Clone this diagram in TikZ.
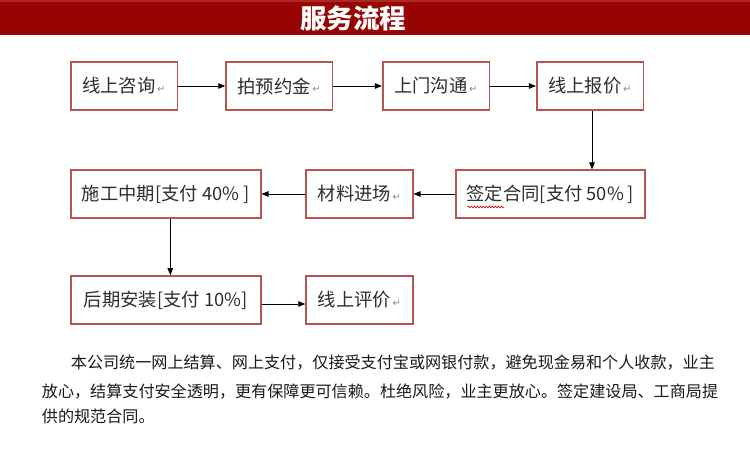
\documentclass[tikz,border=0pt]{standalone}
\usepackage{fontspec}
\usetikzlibrary{arrows.meta,decorations.pathmorphing}
\newfontfamily\cjk{Noto Sans CJK SC}
\newfontfamily\symfont{DejaVu Sans}
\definecolor{barred}{RGB}{150,4,4}
\definecolor{bartop}{RGB}{175,40,40}
\definecolor{boxred}{RGB}{184,84,82}
\definecolor{boxtext}{RGB}{45,45,45}
\definecolor{paratext}{RGB}{25,25,25}
\newcommand\retmark{{\symfont\fontsize{10}{10}\selectfont\color{gray!90}\,\raisebox{0.3pt}{↵}}}
\tikzset{
  flowbox/.style={draw=boxred, line width=1.6pt, inner sep=0pt, minimum height=48pt,
    font=\cjk\fontsize{18.3}{18.3}\selectfont, text=boxtext},
  flowarrow/.style={draw=black, line width=0.9pt, -{Triangle[length=7pt,width=5.5pt]}},
  paraline/.style={anchor=west, inner sep=0pt, font=\cjk\fontsize{16.1}{16.1}\selectfont, text=paratext},
}
\begin{document}
\begin{tikzpicture}[x=1pt,y=-1pt]
\useasboundingbox (0,0) rectangle (750,453);
\fill[white] (0,0) rectangle (750,453);
% header bar
\fill[barred] (0,0) rectangle (750,35);
\fill[bartop] (0,0) rectangle (750,1.5);
\node[text=white, font=\cjk\bfseries\fontsize{26.5}{26.5}\selectfont, inner sep=0pt] (title) at (353,18) {服务流程};
% row 1
\node[flowbox, minimum width=106.6pt] (b1) at (124,86) {线上咨询\retmark};
\node[flowbox, minimum width=106.3pt] (b2) at (279.2,86) {拍预约金\retmark};
\node[flowbox, minimum width=106.6pt] (b3) at (436,86) {上门沟通\retmark};
\node[flowbox, minimum width=106.6pt] (b4) at (590,86) {线上报价\retmark};
% row 2
\node[flowbox, minimum width=190pt, minimum height=47.7pt] (c1) at (165.7,194) {施工中期[支付 40\% ]};
\node[flowbox, minimum width=106.7pt, minimum height=47.7pt] (c2) at (359.4,194) {材料进场\retmark};
\node[flowbox, minimum width=189.3pt, minimum height=47.7pt] (c3) at (550.4,194) {签定合同[支付 50\% ]};
% row 3
\node[flowbox, minimum width=190pt] (d1) at (165.7,300) {后期安装[支付 10\%]};
\node[flowbox, minimum width=106.7pt] (d2) at (359.4,300) {线上评价\retmark};
% spell-check wave under 签定
\draw[red!85!black, line width=0.6pt, decorate, decoration={snake, amplitude=0.9pt, segment length=3pt}]
  ([xshift=-83pt,yshift=-13pt]c3.center) -- ([xshift=-46pt,yshift=-13pt]c3.center);
% connectors
\draw[flowarrow] (b1.east) -- (b2.west);
\draw[flowarrow] (b2.east) -- (b3.west);
\draw[flowarrow] (b3.east) -- (b4.west);
\draw[flowarrow] ([xshift=2pt]b4.south) -- ([xshift=2pt]b4.south |- c3.north);
\draw[flowarrow] (c3.west) -- (c2.east);
\draw[flowarrow] (c2.west) -- (c1.east);
\draw[flowarrow] ([xshift=4.6pt]c1.south) -- ([xshift=4.6pt]c1.south |- d1.north);
\draw[flowarrow] ([yshift=-4pt]d1.east) -- ([yshift=-4pt]d2.west);
% paragraph
\node[paraline] (p1) at (70.7,363) {本公司统一网上结算、网上支付，仅接受支付宝或网银付款，避免现金易和个人收款，业主};
\node[paraline] (p2) at (41.7,391.5) {放心，结算支付安全透明，更有保障更可信赖。杜绝风险，业主更放心。签定建设局、工商局提};
\node[paraline] (p3) at (41.7,416.7) {供的规范合同。};
\end{tikzpicture}
\end{document}
